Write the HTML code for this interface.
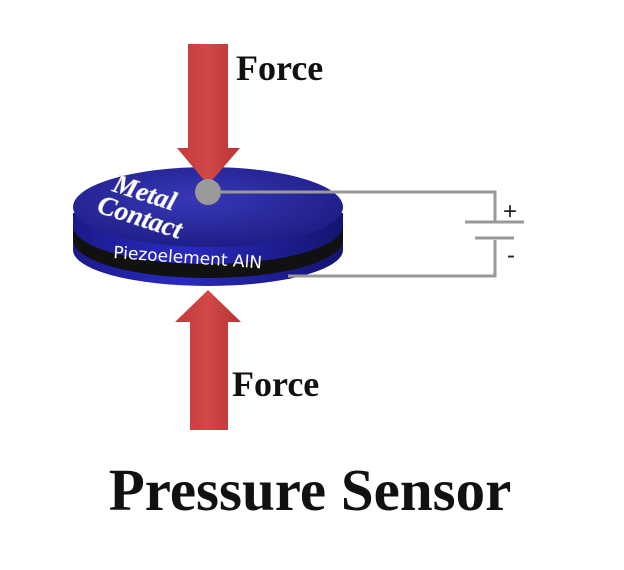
<!DOCTYPE html>
<html><head><style>
html,body{margin:0;padding:0;background:#fff;width:624px;height:570px;overflow:hidden}
</style></head><body>
<svg width="624" height="570" viewBox="0 0 624 570" xmlns="http://www.w3.org/2000/svg">
<defs>
<linearGradient id="ar" x1="0" x2="1" y1="0" y2="0">
<stop offset="0" stop-color="#c33a3a"/><stop offset="0.5" stop-color="#d04848"/><stop offset="1" stop-color="#b83333"/>
</linearGradient>
<linearGradient id="side" x1="0" x2="1">
<stop offset="0" stop-color="#1a1a8a"/><stop offset="0.4" stop-color="#2a2ac0"/><stop offset="1" stop-color="#141470"/>
</linearGradient>
<radialGradient id="top" cx="0.45" cy="0.4" r="0.7">
<stop offset="0" stop-color="#3838b8"/><stop offset="1" stop-color="#1a1a80"/>
</radialGradient>
</defs>
<polygon points="190,430 228,430 228,322 241,322 208,290 175,322 190,322" fill="url(#ar)"/>
<path d="M73,213 L73,250 A135,36 0 0 0 343,250 L343,213 Z" fill="url(#side)"/>
<path d="M73,226 L73,240 A135,38 0 0 0 343,240 L343,226 A135,38 0 0 1 73,226 Z" fill="#111"/>
<ellipse cx="208" cy="207" rx="135" ry="40" fill="url(#top)"/>
<polygon points="188,44 228,44 228,148 240,148 208,185 177,148 188,148" fill="url(#ar)"/>
<g stroke="#999" stroke-width="3" fill="none">
<polyline points="208,192 495,192 495,222"/>
<polyline points="495,240 495,276 288,276"/>
<line x1="465" y1="222" x2="524" y2="222"/>
<line x1="475" y1="238" x2="514" y2="238"/>
</g>
<circle cx="208" cy="192" r="13" fill="#9a9a9a"/>
<text x="503" y="219" font-family="Liberation Sans, sans-serif" font-size="24" fill="#222">+</text>
<text x="507" y="263" font-family="Liberation Sans, sans-serif" font-size="24" fill="#222">-</text>
<g font-family="Liberation Serif, serif" font-weight="bold" font-style="italic" fill="#fff" stroke="#ccc" stroke-width="0.5">
<text x="112" y="203" font-size="27" transform="rotate(18 150 195)">Metal</text>
<text x="96" y="229" font-size="27" transform="rotate(18 150 220)">Contact</text>
</g>
<text x="113" y="258" font-family="DejaVu Sans, sans-serif" font-size="17" fill="#fff" transform="rotate(4 113 258)">Piezoelement AlN</text>
<g font-family="Liberation Serif, serif" font-weight="bold" fill="#111">
<text x="236" y="80" font-size="36">Force</text>
<text x="232" y="396" font-size="36">Force</text>
<text x="310" y="510" font-size="59" text-anchor="middle">Pressure Sensor</text>
</g>
</svg>
</body></html>
